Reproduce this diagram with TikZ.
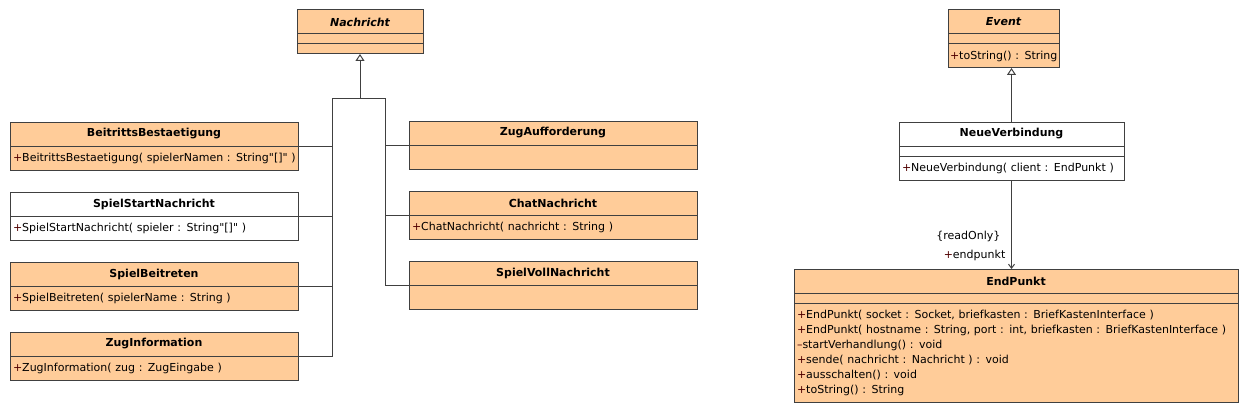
\documentclass[tikz,border=0pt]{standalone}
\usepackage{fontspec}
\setmainfont{DejaVu Sans}
\usetikzlibrary{positioning,arrows.meta}
\definecolor{umlfill}{HTML}{FFCC99}
\definecolor{umlline}{HTML}{404040}
\definecolor{umlvis}{HTML}{500000}
\newcommand{\vis}[1]{\textcolor{umlvis}{#1}}
\tikzset{
  umlname/.style={draw=umlline,fill=umlfill,line width=1pt,outer sep=0pt,minimum height=24pt,inner sep=0pt,font=\fontsize{11}{13}\selectfont\bfseries},
  umlpart/.style={draw=umlline,fill=umlfill,line width=1pt,outer sep=0pt,minimum height=10pt,inner sep=0pt},
  umlops/.style={draw=umlline,fill=umlfill,line width=1pt,outer sep=0pt,minimum height=24pt,inner xsep=3pt,inner ysep=2pt,align=left,font=\fontsize{11}{15}\selectfont},
  umlconn/.style={draw=umlline,line width=1pt},
  umlinherit/.style={umlconn,-{Triangle[open,length=7pt,width=9pt,fill=white]}},
  umlassoc/.style={umlconn,-{Straight Barb[length=4pt,width=6pt]}},
  umllabel/.style={inner sep=0pt,font=\fontsize{11}{13}\selectfont}
}
\begin{document}
\begin{tikzpicture}[x=1pt,y=-1pt]
\useasboundingbox (0,0) rectangle (1248,412);

\node[umlname,minimum width=126pt,anchor=north west,font=\fontsize{11}{13}\selectfont\bfseries\itshape] (nach) at (297,10) {Nachricht};
\node[umlpart,minimum width=126pt,below=0pt of nach] (nachattr) {};
\node[umlpart,minimum width=126pt,below=0pt of nachattr] (nachops) {};

\node[umlname,minimum width=288pt,anchor=north west] (bb) at (10,122) {BeitrittsBestaetigung};
\node[umlops,text width=282pt,below=0pt of bb] (bbops) {\mbox{\vis{+}BeitrittsBestaetigung( spielerNamen : String\textquotedbl[]\textquotedbl\ )}};
\node[umlname,minimum width=288pt,anchor=north west,fill=white] (ss) at (10,192) {SpielStartNachricht};
\node[umlops,text width=282pt,below=0pt of ss,fill=white] (ssops) {\vis{+}SpielStartNachricht( spieler : String\textquotedbl[]\textquotedbl\ )};
\node[umlname,minimum width=288pt,anchor=north west] (sb) at (10,262) {SpielBeitreten};
\node[umlops,text width=282pt,below=0pt of sb] (sbops) {\vis{+}SpielBeitreten( spielerName : String )};
\node[umlname,minimum width=288pt,anchor=north west] (zi) at (10,332) {ZugInformation};
\node[umlops,text width=282pt,below=0pt of zi] (ziops) {\vis{+}ZugInformation( zug : ZugEingabe )};

\node[umlname,minimum width=288pt,anchor=north west] (za) at (409,121) {ZugAufforderung};
\node[umlops,text width=282pt,below=0pt of za] (zaops) {};
\node[umlname,minimum width=288pt,anchor=north west] (cn) at (409,191) {ChatNachricht};
\node[umlops,text width=282pt,below=0pt of cn] (cnops) {\vis{+}ChatNachricht( nachricht : String )};
\node[umlname,minimum width=288pt,anchor=north west] (sv) at (409,261) {SpielVollNachricht};
\node[umlops,text width=282pt,below=0pt of sv] (svops) {};

\coordinate (fork) at (360,98);
\coordinate (lbus) at (332,98);
\coordinate (rbus) at (385,98);
\draw[umlinherit] (fork) -- (nachops.south);
\draw[umlconn] (lbus) -- (rbus);
\draw[umlconn] (lbus) |- (zi.south east);
\draw[umlconn] (bb.south east) -- (bb.south east -| lbus);
\draw[umlconn] (ss.south east) -- (ss.south east -| lbus);
\draw[umlconn] (sb.south east) -- (sb.south east -| lbus);
\draw[umlconn] (rbus) |- (sv.south west);
\draw[umlconn] (za.south west) -- (za.south west -| rbus);
\draw[umlconn] (cn.south west) -- (cn.south west -| rbus);

\node[umlname,minimum width=111pt,anchor=north west,font=\fontsize{11}{13}\selectfont\bfseries\itshape] (ev) at (948,10) {Event};
\node[umlpart,minimum width=111pt,below=0pt of ev] (evattr) {};
\node[umlops,text width=107pt,inner xsep=2pt,below=0pt of evattr] (evops) {\mbox{\vis{+}toString() : String}};

\node[umlname,minimum width=225pt,anchor=north west,fill=white] (nv) at (899,122) {NeueVerbindung};
\node[umlpart,minimum width=225pt,below=0pt of nv,fill=white] (nvattr) {};
\node[umlops,text width=219pt,below=0pt of nvattr,fill=white] (nvops) {\vis{+}NeueVerbindung( client : EndPunkt )};

\node[umlname,minimum width=444pt,anchor=north west] (ep) at (794,269) {EndPunkt};
\node[umlpart,minimum width=444pt,below=0pt of ep] (epattr) {};
\node[umlops,text width=438pt,minimum height=99pt,below=0pt of epattr] (epops) {\vis{+}EndPunkt( socket : Socket, briefkasten : BriefKastenInterface )\\
\vis{+}EndPunkt( hostname : String, port : int, briefkasten : BriefKastenInterface )\\
\vis{\textendash}startVerhandlung() : void\\
\vis{+}sende( nachricht : Nachricht ) : void\\
\vis{+}ausschalten() : void\\
\vis{+}toString() : String};

\draw[umlinherit] (nv.north) -- (nv.north |- evops.south);
\coordinate (epend) at (nvops.south |- ep.north);
\draw[umlassoc] (nvops.south) -- (epend);
\node[umllabel,anchor=east] (eprole) at ([xshift=-6pt,yshift=14pt]epend) {\vis{+}endpunkt};
\node[umllabel,anchor=east] (epprop) at ([xshift=-11pt,yshift=33pt]epend) {\{readOnly\}};
\end{tikzpicture}
\end{document}
